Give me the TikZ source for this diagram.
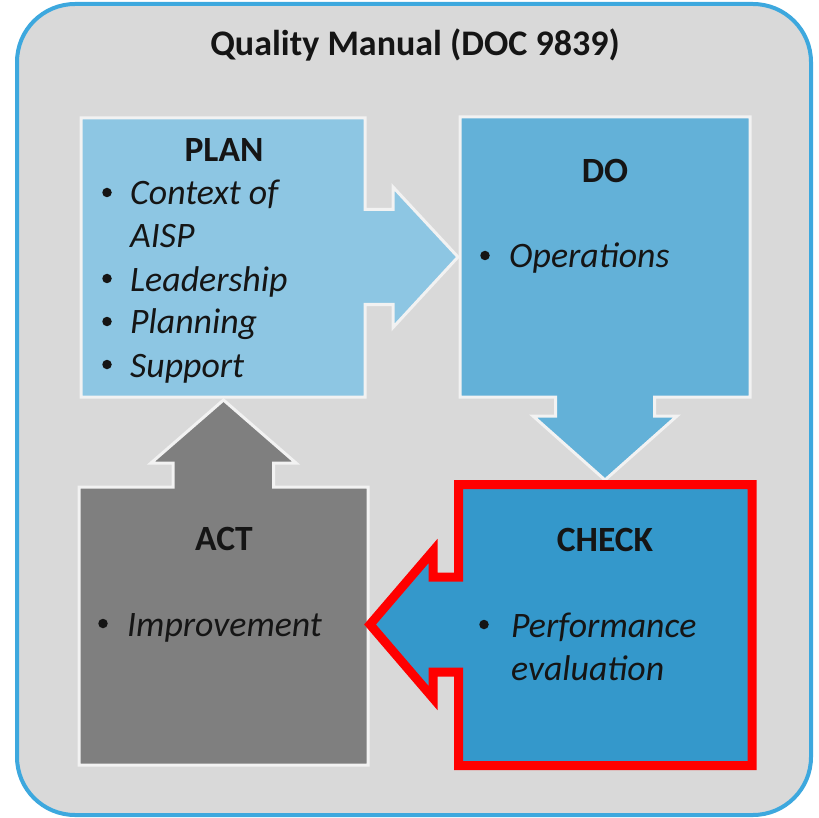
\documentclass[tikz,border=0pt]{standalone}
\usepackage{fontspec}
\setmainfont{Carlito}
\definecolor{bgfill}{HTML}{D9D9D9}
\definecolor{frame}{HTML}{3DA8DE}
\definecolor{planfill}{HTML}{8DC6E3}
\definecolor{dofill}{HTML}{63B1D8}
\definecolor{checkfill}{HTML}{3498CB}
\definecolor{actfill}{HTML}{7F7F7F}
\definecolor{boxline}{HTML}{F2F2F2}
\definecolor{ink}{HTML}{151515}
\definecolor{alertred}{HTML}{FF0000}
\tikzset{
  shapebox/.style={line width=3pt, draw=boxline, line join=miter},
  headtext/.style={font=\fontsize{35.5}{42}\selectfont\bfseries, text=ink, anchor=base, inner sep=0pt},
  itemtext/.style={font=\fontsize{35.8}{42}\selectfont\itshape, text=ink, anchor=base west, inner sep=0pt},
  bulletdot/.style={circle, fill=ink, minimum size=9.5pt, inner sep=0pt},
}
\begin{document}
\begin{tikzpicture}[x=1pt,y=-1pt]
\useasboundingbox (0,0) rectangle (819,818);
% outer frame
\draw[line width=4pt, draw=frame, fill=bgfill, rounded corners=58pt] (17,4) rectangle (811,815);
\node[headtext, font=\fontsize{36}{43}\selectfont\bfseries] (title) at (415,56) {Quality Manual (DOC 9839)};
% PLAN
\draw[shapebox, fill=planfill] (81,118) -- (365,118) -- (365,209.5) -- (393,209.5) -- (393,187) -- (458,257) -- (393,327.5) -- (393,304.5) -- (365,304.5) -- (365,397) -- (81,397) -- cycle;
% DO
\draw[shapebox, fill=dofill] (460,117) -- (750,117) -- (750,397) -- (654.5,397) -- (654.5,416) -- (677,416) -- (605,480) -- (533,416) -- (555.5,416) -- (555.5,397) -- (460,397) -- cycle;
% ACT
\draw[shapebox, fill=actfill] (79,487) -- (173,487) -- (173,463) -- (151,463) -- (223.5,400) -- (296,463) -- (273.5,463) -- (273.5,487) -- (368,487) -- (368,765) -- (79,765) -- cycle;
% CHECK
\draw[line width=9pt, draw=alertred, fill=checkfill, line join=miter] (458.5,484.5) -- (752,484.5) -- (752,765.5) -- (458.5,765.5) -- (458.5,672) -- (433,672) -- (433,698) -- (370,624.5) -- (433,551) -- (433,577) -- (458.5,577) -- cycle;
% PLAN text
\node[headtext] (planh) at (224,162) {PLAN};
\node[bulletdot] (planb1) at (107,192.5) {};
\node[itemtext] (plant1) at (130,205) {Context of};
\node[itemtext] (plant1b) at (130,248) {AISP};
\node[bulletdot] (planb2) at (107,278.5) {};
\node[itemtext] (plant2) at (130,291) {Leadership};
\node[bulletdot] (planb3) at (107,321.5) {};
\node[itemtext] (plant3) at (130,334) {Planning};
\node[bulletdot] (planb4) at (107,364.5) {};
\node[itemtext] (plant4) at (130,377) {Support};
% DO text
\node[headtext] (doh) at (605,183) {DO};
\node[bulletdot] (dob1) at (485,255.5) {};
\node[itemtext] (dot1) at (509,268) {Operations};
% CHECK text
\node[headtext] (checkh) at (605,551) {CHECK};
\node[bulletdot] (checkb1) at (484,624.5) {};
\node[itemtext] (checkt1) at (511,637) {Performance};
\node[itemtext] (checkt1b) at (511,680) {evaluation};
% ACT text
\node[headtext] (acth) at (224,550) {ACT};
\node[bulletdot] (actb1) at (103,623.5) {};
\node[itemtext] (actt1) at (127,636) {Improvement};
\end{tikzpicture}
\end{document}
